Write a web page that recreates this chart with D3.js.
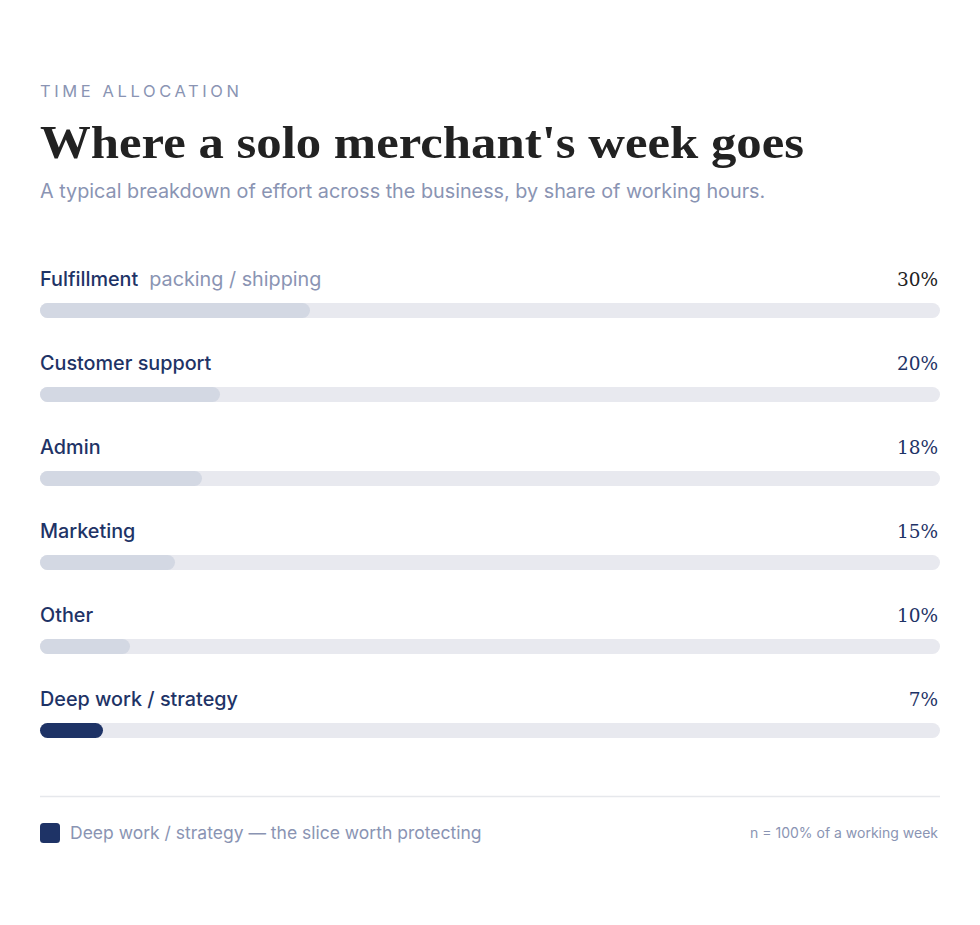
<!DOCTYPE html>
<html>
<head>
<meta charset="utf-8">
<script src="https://cdn.jsdelivr.net/npm/d3@7"></script>
<style>
  body { margin: 0; background: #fff; }
  svg { display: block; }
</style>
</head>
<body>
<svg id="chart" width="980" height="925"></svg>
<script>
// Chart data
var categories = ["Fulfillment", "Customer support", "Admin", "Marketing", "Other", "Deep work / strategy"];
var subLabels = ["packing / shipping", "", "", "", "", ""];
var shares = [30, 20, 18, 15, 10, 7];
var highlighted = "Deep work / strategy";

var rows = categories.map(function (c, i) {
	return { name: c, sub: subLabels[i], value: shares[i] };
});

var navy = "#1e3366";
var muted = "#8a94b3";
var sans = "Inter, 'Noto Sans', sans-serif";
var serif = "'Liberation Serif', 'DejaVu Serif', serif";

var svg = d3.select("#chart");

// Header
svg.append("text")
	.attr("x", 40).attr("y", 97)
	.attr("font-family", sans).attr("font-size", 16.5)
	.attr("letter-spacing", 3.6)
	.attr("fill", muted)
	.text("TIME ALLOCATION");

svg.append("text")
	.attr("x", 40).attr("y", 158)
	.attr("font-family", serif).attr("font-size", 47).attr("font-weight", 700)
	.attr("fill", "#222")
	.attr("textLength", 764).attr("lengthAdjust", "spacingAndGlyphs")
	.text("Where a solo merchant's week goes");

svg.append("text")
	.attr("x", 40).attr("y", 198)
	.attr("font-family", sans).attr("font-size", 19.8)
	.attr("fill", muted)
	.text("A typical breakdown of effort across the business, by share of working hours.");

// Scales
var x = d3.scaleLinear().domain([0, 100]).range([40, 940]);
var y = d3.scaleBand().domain(categories).range([260, 764]);
var barH = 15;

var rowG = svg.selectAll("g.row").data(rows).enter().append("g")
	.classed("row", true)
	.attr("transform", function (d) { return "translate(0," + y(d.name) + ")"; });

// Label (and optional sub-label)
var label = rowG.append("text")
	.attr("x", x(0)).attr("y", 26)
	.attr("font-family", sans).attr("font-size", 19.8)
	.attr("fill", navy);
label.append("tspan").attr("font-weight", 500).text(function (d) { return d.name; });
label.append("tspan")
	.attr("dx", 11)
	.attr("fill", muted)
	.text(function (d) { return d.sub; });

// Percent value at the right
rowG.append("text")
	.attr("x", x(100) - 2).attr("y", 26)
	.attr("text-anchor", "end")
	.attr("font-family", "'DejaVu Serif', serif").attr("font-size", 18.5)
	.attr("fill", function (d, i) { return i === 0 ? "#222" : navy; })
	.text(function (d) { return d.value + "%"; });

// Track
rowG.append("rect")
	.attr("x", x(0)).attr("y", 43)
	.attr("width", x(100) - x(0)).attr("height", barH)
	.attr("rx", barH / 2)
	.attr("fill", "#e8e9ef");

// Value bar
rowG.append("rect")
	.attr("x", x(0)).attr("y", 43)
	.attr("width", function (d) { return x(d.value) - x(0); })
	.attr("height", barH)
	.attr("rx", barH / 2)
	.attr("fill", function (d) { return d.name === highlighted ? navy : "#d3d8e3"; });

// Footer
svg.append("line")
	.attr("x1", 40).attr("x2", 940)
	.attr("y1", 796.5).attr("y2", 796.5)
	.attr("stroke", "#e6e8ec").attr("stroke-width", 1.5);

svg.append("rect")
	.attr("x", 40).attr("y", 823)
	.attr("width", 20).attr("height", 20)
	.attr("rx", 3.5)
	.attr("fill", navy);

svg.append("text")
	.attr("x", 70).attr("y", 839)
	.attr("font-family", sans).attr("font-size", 17.5)
	.attr("fill", muted)
	.text(highlighted + " \u2014 the slice worth protecting");

svg.append("text")
	.attr("x", 938).attr("y", 838)
	.attr("text-anchor", "end")
	.attr("font-family", sans).attr("font-size", 14)
	.attr("fill", muted)
	.text("n = 100% of a working week");
</script>
</body>
</html>
